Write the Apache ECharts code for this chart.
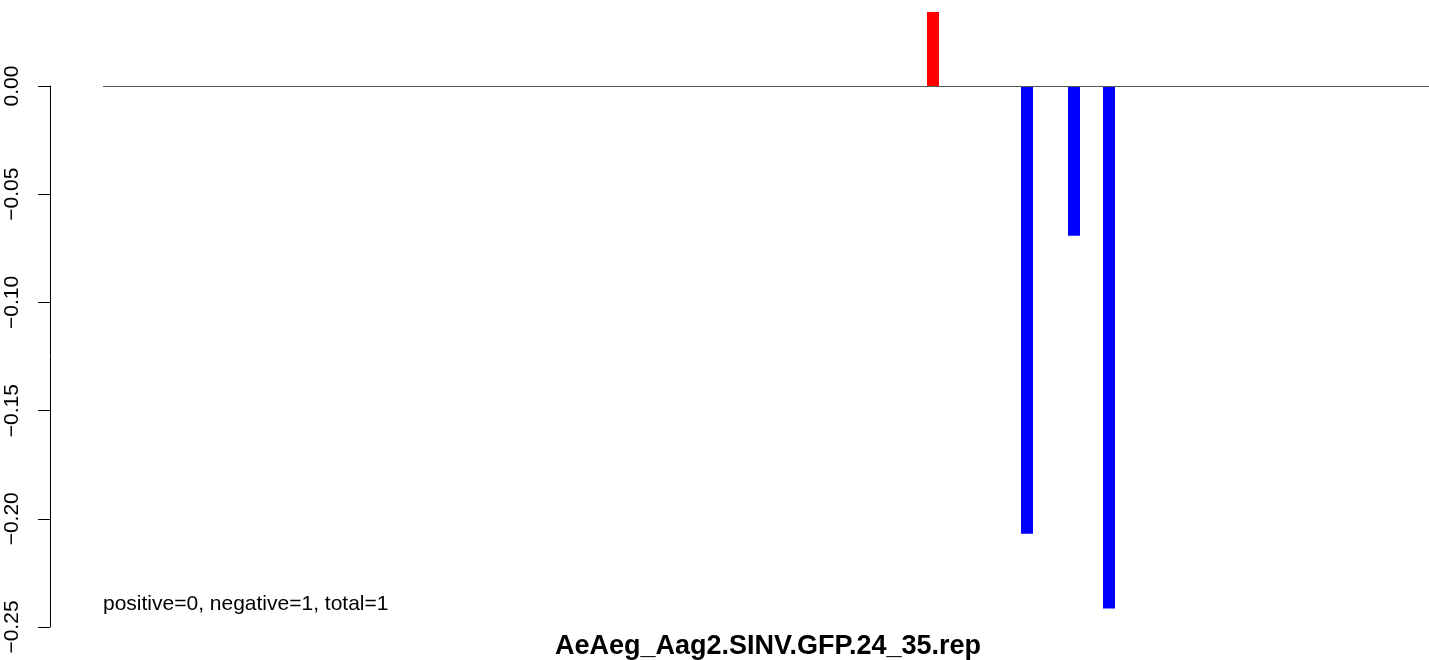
<!DOCTYPE html>
<html>
<head>
<meta charset="utf-8">
<script src="https://cdn.jsdelivr.net/npm/echarts@6/dist/echarts.min.js"></script>
<style>
html,body{margin:0;padding:0;background:#fff;}
#chart{width:1429px;height:660px;}
</style>
</head>
<body>
<div id="chart"></div>
<script>
// Bar positions (arbitrary units along the x axis) and values
const positions = [830, 924, 971, 1006];
const values = [0.0342, -0.2069, -0.0692, -0.2415];
const yTicks = [0, -0.05, -0.10, -0.15, -0.20, -0.25];
const titleText = 'AeAeg_Aag2.SINV.GFP.24_35.rep';
const noteText = 'positive=0, negative=1, total=1';

const chart = echarts.init(document.getElementById('chart'), null, {renderer: 'canvas'});
const font = '"Liberation Sans", Arial, Helvetica, sans-serif';

chart.setOption({
  animation: false,
  backgroundColor: '#ffffff',
  title: {
    text: titleText,
    left: 763,
    top: 628,
    textAlign: 'center',
    textStyle: {fontFamily: font, fontSize: 27, fontWeight: 'bold', color: '#000'}
  },
  grid: {left: 50, right: 0, top: 86, bottom: 33, containLabel: false, outerBoundsMode: 'none'},
  xAxis: {
    type: 'value',
    min: -53,
    max: 1326,
    axisLine: {show: false},
    axisTick: {show: false},
    axisLabel: {show: false},
    splitLine: {show: false}
  },
  yAxis: {
    type: 'value',
    min: -0.25,
    max: 0,
    interval: 0.05,
    axisLine: {show: true, onZero: false, lineStyle: {color: '#000', width: 1}},
    axisTick: {show: true, length: 12, inside: false, lineStyle: {color: '#000', width: 1}},
    splitLine: {show: false},
    axisLabel: {
      rotate: 90,
      margin: 27,
      fontFamily: font,
      fontSize: 21,
      color: '#000',
      formatter: function (v) {
        const s = v.toFixed(2);
        return s.replace('-', '\u2212');
      }
    }
  },
  series: [{
    type: 'bar',
    clip: false,
    barWidth: 12,
    data: positions.map((p, i) => [p, values[i]]),
    itemStyle: {
      color: function (params) { return params.value[1] >= 0 ? '#ff0000' : '#0000ff'; }
    },
    markLine: {
      silent: true,
      symbol: ['none', 'none'],
      label: {show: false},
      lineStyle: {color: '#555555', width: 1, type: 'solid'},
      data: [[{coord: [0, 0]}, {coord: [1326, 0]}]]
    }
  }],
  graphic: [{
    type: 'text',
    left: 103,
    top: 594,
    style: {text: noteText, fontFamily: font, fontSize: 21, fill: '#000'}
  }]
});
</script>
</body>
</html>
